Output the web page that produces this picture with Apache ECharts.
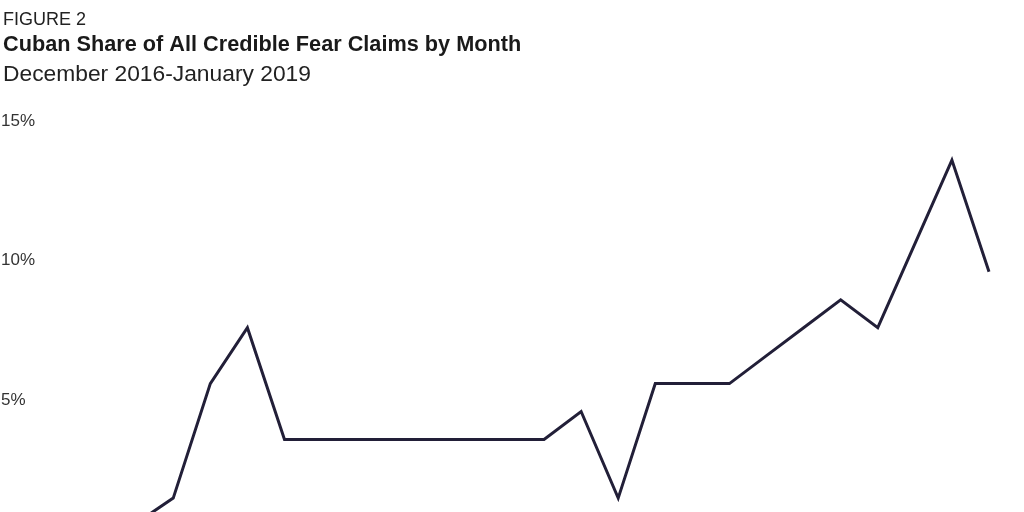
<!DOCTYPE html>
<html>
<head>
<meta charset="utf-8">
<script src="https://cdn.jsdelivr.net/npm/echarts@6/dist/echarts.min.js"></script>
<style>
html,body{margin:0;padding:0;background:#fff;overflow:hidden;width:1024px;height:512px;}
#chart{width:1024px;height:600px;}
</style>
</head>
<body>
<div id="chart"></div>
<script>
// months Dec 2016 - Jan 2019
var months = ['Dec 2016','Jan 2017','Feb 2017','Mar 2017','Apr 2017','May 2017','Jun 2017','Jul 2017',
	'Aug 2017','Sep 2017','Oct 2017','Nov 2017','Dec 2017','Jan 2018','Feb 2018','Mar 2018','Apr 2018',
	'May 2018','Jun 2018','Jul 2018','Aug 2018','Sep 2018','Oct 2018','Nov 2018','Dec 2018','Jan 2019'];
// cuban share (%)
var cubanShare = [0.4, 0.5, 0.6, 1.5, 5.6, 7.6, 3.6, 3.6,
	3.6, 3.6, 3.6, 3.6, 3.6, 3.6, 4.6, 1.5, 5.6,
	5.6, 5.6, 6.6, 7.6, 8.6, 7.6, 10.6, 13.6, 9.6];
var yTicks = [0, 5, 10, 15];

var myChart = echarts.init(document.getElementById('chart'));
var option = {
	animation: false,
	title: [
		{text: 'FIGURE 2', left: 3, top: 11, padding: 0,
			textStyle: {fontFamily: 'Liberation Sans', fontSize: 18, fontWeight: 'normal', color: '#222'}},
		{text: 'Cuban Share of All Credible Fear Claims by Month', left: 3, top: 34, padding: 0,
			textStyle: {fontFamily: 'Liberation Sans', fontSize: 21.7, fontWeight: 'bold', color: '#1a1a1a'}},
		{text: 'December 2016-January 2019', left: 3, top: 63, padding: 0,
			textStyle: {fontFamily: 'Liberation Sans', fontSize: 22.8, fontWeight: 'normal', color: '#222'}}
	],
	grid: {left: 62, right: 35, top: 121, bottom: 60, outerBoundsMode: 'none', containLabel: false},
	xAxis: {
		type: 'category',
		data: months,
		boundaryGap: false,
		axisLine: {show: false},
		axisTick: {show: false},
		axisLabel: {show: false}
	},
	yAxis: {
		type: 'value',
		min: yTicks[0],
		max: yTicks[yTicks.length - 1],
		interval: 5,
		splitLine: {show: false},
		axisLine: {show: false},
		axisTick: {show: false},
		axisLabel: {
			align: 'left',
			margin: 61,
			fontFamily: 'Liberation Sans',
			fontSize: 17,
			color: '#333',
			formatter: function(v){ return v + '%'; }
		}
	},
	series: [{
		type: 'line',
		data: cubanShare,
		symbol: 'none',
		lineStyle: {color: '#221f38', width: 3, join: 'miter'}
	}]
};
myChart.setOption(option);
</script>
</body>
</html>
